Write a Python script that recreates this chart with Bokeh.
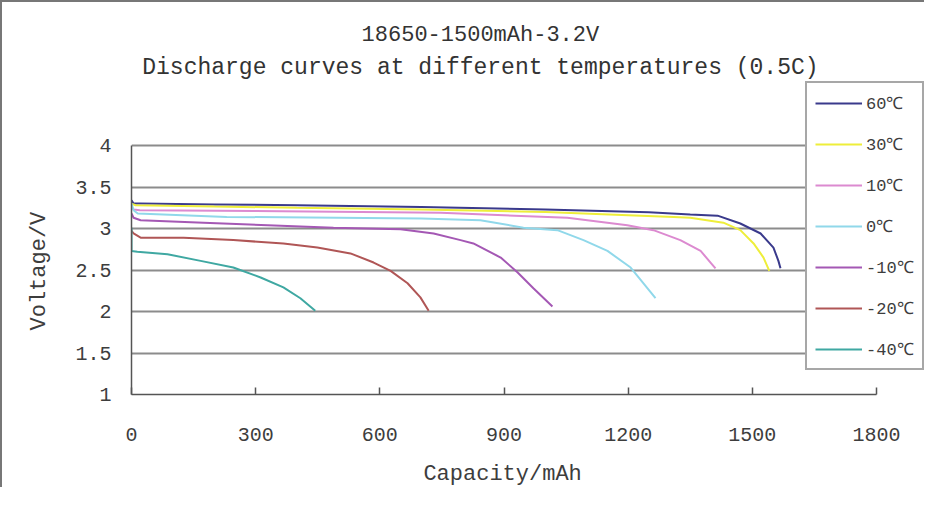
from bokeh.plotting import figure
from bokeh.models import Range1d, FixedTicker, Label, Legend, LegendItem
from bokeh.embed import file_html
from bokeh.resources import INLINE

# ---- data (capacity mAh, voltage V) ----
t60_x = [0, 5, 20, 200, 400, 700, 1000, 1250, 1350, 1416, 1471, 1520, 1551, 1563, 1568]
t60_y = [3.34, 3.30, 3.30, 3.29, 3.28, 3.26, 3.23, 3.195, 3.17, 3.155, 3.06, 2.94, 2.77, 2.61, 2.52]

t30_x = [0, 10, 200, 400, 700, 1000, 1200, 1310, 1350, 1430, 1471, 1503, 1527, 1541]
t30_y = [3.30, 3.28, 3.265, 3.25, 3.23, 3.20, 3.16, 3.14, 3.13, 3.07, 2.98, 2.82, 2.65, 2.49]

t10_x = [0, 5, 20, 300, 747, 900, 1053, 1198, 1261, 1326, 1375, 1399, 1411]
t10_y = [3.26, 3.23, 3.22, 3.21, 3.19, 3.16, 3.13, 3.04, 2.98, 2.86, 2.73, 2.59, 2.52]

t0_x = [0, 5, 15, 230, 700, 843, 947, 1029, 1092, 1150, 1206, 1237, 1266]
t0_y = [3.30, 3.22, 3.18, 3.14, 3.12, 3.10, 3.01, 2.98, 2.86, 2.73, 2.53, 2.34, 2.16]

tm10_x = [0, 5, 22, 174, 329, 488, 650, 730, 795, 826, 892, 933, 971, 1017]
tm10_y = [3.18, 3.13, 3.10, 3.07, 3.04, 3.01, 2.99, 2.94, 2.86, 2.82, 2.65, 2.47, 2.28, 2.06]

tm20_x = [0, 5, 22, 126, 246, 367, 449, 529, 585, 626, 667, 698, 718]
tm20_y = [2.97, 2.94, 2.89, 2.89, 2.86, 2.82, 2.77, 2.70, 2.59, 2.49, 2.34, 2.17, 2.01]

tm40_x = [0, 0, 14, 87, 167, 246, 312, 367, 408, 444]
tm40_y = [3.01, 2.73, 2.72, 2.69, 2.61, 2.53, 2.41, 2.29, 2.16, 2.01]

series_names = ["60℃", "30℃", "10℃", "0℃", "-10℃", "-20℃", "-40℃"]
series_x = [t60_x, t30_x, t10_x, t0_x, tm10_x, tm20_x, tm40_x]
series_y = [t60_y, t30_y, t10_y, t0_y, tm10_y, tm20_y, tm40_y]
series_colors = ["#3a3a8c", "#eeee3a", "#dc8ad0", "#90d8ea", "#a458b4", "#b05656", "#3fa8a2"]

x_ticks = [0, 300, 600, 900, 1200, 1500, 1800]
y_ticks = [1, 1.5, 2, 2.5, 3, 3.5, 4]
grid_ticks = [1.5, 2, 2.5, 3, 3.5, 4]

title1 = "18650-1500mAh-3.2V"
title2 = "Discharge curves at different temperatures (0.5C)"
x_title = "Capacity/mAh"
y_title = "Voltage/V"

FONT = "Liberation Mono"
TXT = "#3d3d3d"
NBSP = "\u00a0"

# layout geometry (pixels inside the figure canvas)
W, H = 924, 487
LEFT, BOTTOM = 129, 95
PX_PER_MAH = 745 / 1800
PX_PER_V = 83
x_end = (W - LEFT) / PX_PER_MAH
y_end = 1 + (H - BOTTOM) / PX_PER_V

p = figure(width=W, height=H, output_backend="svg", toolbar_location=None, title=None,
           x_range=Range1d(0, x_end), y_range=Range1d(1, y_end),
           min_border_left=LEFT, min_border_right=0, min_border_top=0, min_border_bottom=BOTTOM)
p.styles = {"border-left": "2px solid #777", "border-top": "2px solid #777"}
p.outline_line_color = None
p.background_fill_color = "white"
p.border_fill_color = "white"

# axes
p.xaxis.ticker = FixedTicker(ticks=x_ticks)
p.yaxis.ticker = FixedTicker(ticks=y_ticks)
p.xaxis.bounds = (0, 1800)
p.yaxis.bounds = (1, 4)
p.yaxis.major_label_overrides = {1: "1", 1.5: "1.5", 2: "2", 2.5: "2.5", 3: "3", 3.5: "3.5", 4: "4"}
for ax in (p.xaxis, p.yaxis):
    ax.minor_tick_line_color = None
    ax.axis_line_color = "#555555"
    ax.axis_line_width = 1.5
    ax.major_label_text_font = FONT
    ax.major_label_text_font_size = "20px"
    ax.major_label_text_color = TXT
    ax.axis_label_text_font = FONT
    ax.axis_label_text_font_size = "22px"
    ax.axis_label_text_font_style = "normal"
    ax.axis_label_text_color = TXT
p.xaxis.major_tick_in = 7
p.xaxis.major_tick_out = 0
p.xaxis.major_tick_line_color = "#555555"
p.xaxis.major_tick_line_width = 1.5
p.xaxis.major_label_standoff = 33
# the axis title is centred on the whole panel; pad it so it sits under the 0-1800 span
p.xaxis.axis_label = x_title + NBSP * 4
p.xaxis.axis_label_standoff = 18
p.yaxis.major_tick_in = 0
p.yaxis.major_tick_out = 0
p.yaxis.major_label_standoff = 20
p.yaxis.axis_label = y_title + NBSP * 11
p.yaxis.axis_label_standoff = 20

p.xgrid.grid_line_color = None
p.ygrid.ticker = FixedTicker(ticks=grid_ticks)
p.ygrid.grid_line_color = "#8c8c8c"
p.ygrid.grid_line_width = 2

items = []
for name, xs, ys, c in zip(series_names, series_x, series_y, series_colors):
    r = p.line(xs, ys, line_color=c, line_width=2)
    items.append(LegendItem(label=name, renderers=[r]))

legend = Legend(items=items, location=(674, 24),
                label_text_font=FONT, label_text_font_size="17px", label_text_color=TXT,
                glyph_width=47, glyph_height=20, label_height=20, spacing=18,
                padding=8, margin=0, label_standoff=4,
                border_line_color="#505050", border_line_width=2,
                background_fill_color="white", background_fill_alpha=1.0)
p.add_layout(legend, "center")

p.add_layout(Label(x=843, y=5.325, text=title1, text_align="center", text_baseline="middle",
                   text_font=FONT, text_font_size="22px", text_color="#333333"))
p.add_layout(Label(x=843, y=4.928, text=title2, text_align="center", text_baseline="middle",
                   text_font=FONT, text_font_size="23px", text_color="#333333"))

open("out.html", "w").write(file_html(p, INLINE))
